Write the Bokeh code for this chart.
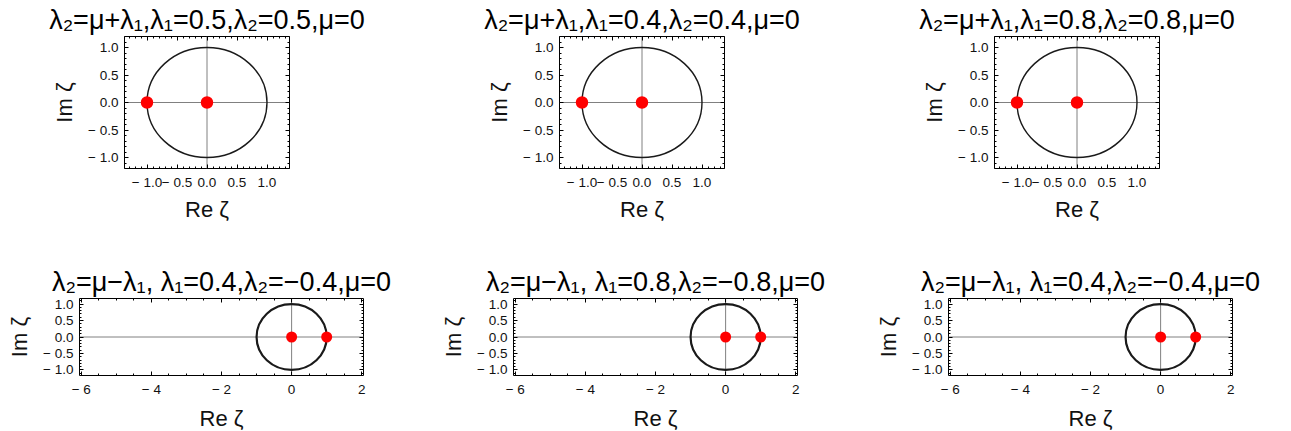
from bokeh.plotting import figure
from bokeh.layouts import column, row
from bokeh.models import (LinearAxis, Span, Title, CustomJSTickFormatter,
                          SingleIntervalTicker, Range1d)
from bokeh.embed import file_html
from bokeh.resources import INLINE

# Panel titles
top_titles = ["λ₂=μ+λ₁,λ₁=0.5,λ₂=0.5,μ=0",
              "λ₂=μ+λ₁,λ₁=0.4,λ₂=0.4,μ=0",
              "λ₂=μ+λ₁,λ₁=0.8,λ₂=0.8,μ=0"]
bottom_titles = ["λ₂=μ−λ₁, λ₁=0.4,λ₂=−0.4,μ=0",
                 "λ₂=μ−λ₁, λ₁=0.8,λ₂=−0.8,μ=0",
                 "λ₂=μ−λ₁, λ₁=0.4,λ₂=−0.4,μ=0"]

# Unit circle |ζ| = 1
circle_re = [0.0]
circle_im = [0.0]
circle_radius = [1.0]

# Roots in the ζ-plane
plus_roots_re = [-1.0, 0.0]     # λ₂ = μ + λ₁
minus_roots_re = [0.0, 1.0]     # λ₂ = μ − λ₁
roots_im = [0.0, 0.0]

FONT = "Liberation Sans, Arial, DejaVu Sans"
TXT = "#111111"


def fmt(decimals):
    return CustomJSTickFormatter(code=f"""
        const s = Math.abs(tick).toFixed({decimals});
        return tick < -1e-9 ? "\\u2212 " + s : s;
    """)


def blank():
    return CustomJSTickFormatter(code='return "";')


def panel(title, roots_re, xr, yr, xstep, xdec, fw, fh, borders,
          line_w, dot, label_gap):
    bl, br, bt, bb = borders
    p = figure(frame_width=fw, frame_height=fh,
               x_range=Range1d(*xr), y_range=Range1d(*yr),
               min_border_left=bl, min_border_right=br,
               min_border_top=bt, min_border_bottom=bb,
               toolbar_location=None, output_backend="svg",
               x_axis_location=None, y_axis_location=None)
    p.grid.visible = False
    p.outline_line_color = "black"
    p.outline_line_width = 1
    p.background_fill_color = "white"
    p.border_fill_color = "white"

    xt = SingleIntervalTicker(interval=xstep, num_minor_ticks=5 if xstep < 1 else 4)
    yt = SingleIntervalTicker(interval=0.5, num_minor_ticks=5)

    for side, ax in (("below", LinearAxis(ticker=xt, formatter=fmt(xdec))),
                     ("left", LinearAxis(ticker=yt, formatter=fmt(1))),
                     ("above", LinearAxis(ticker=xt, formatter=blank())),
                     ("right", LinearAxis(ticker=yt, formatter=blank()))):
        ax.axis_line_color = None
        ax.major_tick_in = 4
        ax.major_tick_out = 0
        ax.minor_tick_in = 2
        ax.minor_tick_out = 0
        ax.major_tick_line_color = "black"
        ax.minor_tick_line_color = "black"
        if side in ("above", "right"):
            ax.major_label_standoff = 0
        else:
            ax.major_label_text_font = FONT
            ax.major_label_text_font_size = "13.5px"
            ax.major_label_text_color = TXT
            ax.major_label_standoff = 6
            ax.axis_label_text_font = FONT
            ax.axis_label_text_font_size = "22px"
            ax.axis_label_text_font_style = "normal"
            ax.axis_label_text_color = TXT
            ax.axis_label_standoff = label_gap if side == "below" else 8
            ax.axis_label = "Re ζ" if side == "below" else "Im ζ"
        p.add_layout(ax, side)

    # coordinate axes through the origin, drawn beneath the curves
    for dim in ("width", "height"):
        p.add_layout(Span(location=0, dimension=dim, line_color="#808080",
                          line_width=1, level="underlay"))

    p.ellipse(x=circle_re, y=circle_im,
              width=[2 * r for r in circle_radius],
              height=[2 * r for r in circle_radius],
              fill_color=None, line_color="#1a1a1a", line_width=line_w)
    p.scatter(x=roots_re, y=roots_im, size=dot, fill_color="red",
              line_color=None)

    t = Title(text=title, align="center", text_font=FONT,
              text_font_size="27px", text_font_style="normal",
              text_color="black", standoff=4)
    p.add_layout(t, "above")
    return p


top_row = []
for i, (ttl, bl) in enumerate(zip(top_titles, [124, 129, 134])):
    w = 431 if i == 2 else 430
    br = w - bl - 165
    top_row.append(panel(ttl, plus_roots_re, (-1.375, 1.375), (-1.2, 1.2),
                         0.5, 1, 165, 132, (bl, br, 36, 62), 1.4, 12.5, 4))

bottom_row = []
for i, (ttl, bl) in enumerate(zip(bottom_titles, [79, 83, 88])):
    w = 431 if i == 2 else 430
    br = w - bl - 284
    bottom_row.append(panel(ttl, minus_roots_re, (-6.05, 2.05), (-1.17, 1.17),
                            2, 0, 284, 77, (bl, br, 68, 56), 2.2, 11, 6))

layout = column(row(*top_row), row(*bottom_row))

with open("out.html", "w") as f:
    f.write(file_html(layout, INLINE))
